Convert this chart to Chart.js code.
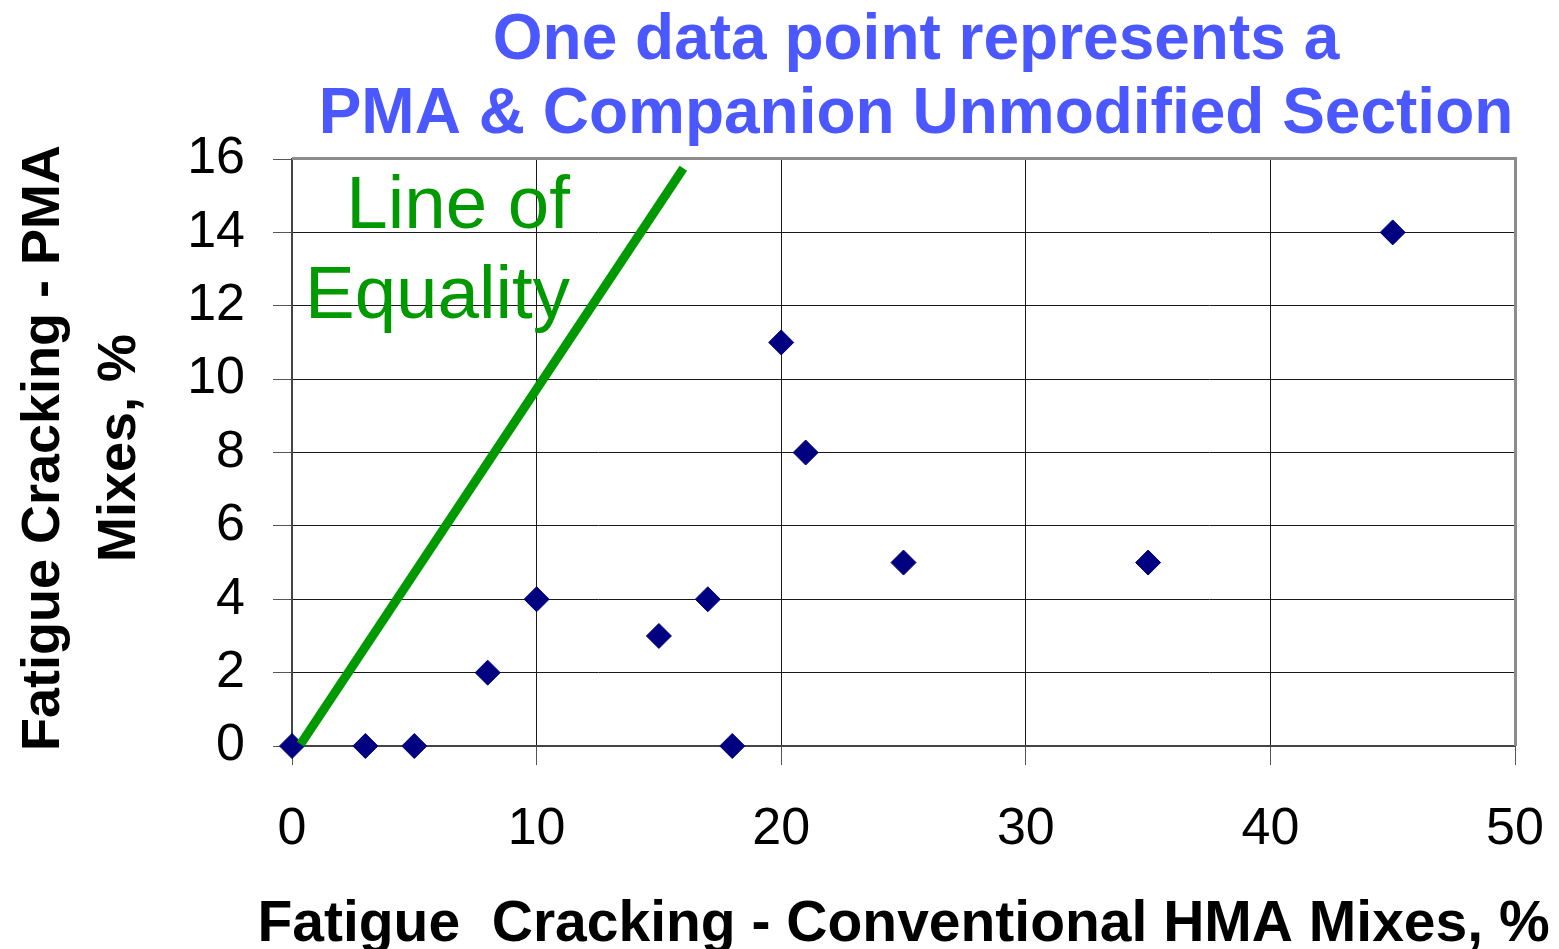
<!DOCTYPE html>
<html>
<head>
<meta charset="utf-8">
<script src="https://cdn.jsdelivr.net/npm/chart.js@4/dist/chart.umd.min.js"></script>
<style>
  html, body { margin: 0; padding: 0; background: #fff; }
  #wrap { width: 1559px; height: 949px; }
</style>
</head>
<body>
<div id="wrap"><canvas id="c" width="1559" height="949"></canvas></div>
<script>
// ---- data ----
const conventionalHMA = [0, 3, 5, 8, 10, 15, 17, 18, 20, 21, 25, 35, 45];
const pmaCracking     = [0, 0, 0, 2, 4, 3, 4, 0, 11, 8, 5, 5, 14];
const equalityX = [0.35, 16];
const equalityY = [0.05, 15.75];
const xTickValues = [0, 10, 20, 30, 40, 50];
const yTickValues = [0, 2, 4, 6, 8, 10, 12, 14, 16];
const titleLines = ['One data point represents a', 'PMA & Companion Unmodified Section'];
const equalityLabel = ['Line of', 'Equality'];
const xTitle = 'Fatigue  Cracking - Conventional HMA Mixes, %';
const yTitle = ['Fatigue Cracking - PMA', 'Mixes, %'];

const FONT = "'Liberation Sans', Arial, sans-serif";

const scatterData = conventionalHMA.map((x, i) => ({ x: x, y: pmaCracking[i] }));
const lineData = equalityX.map((x, i) => ({ x: x, y: equalityY[i] }));

const decor = {
  id: 'decor',
  beforeDatasetsDraw(chart) {
    const { ctx, chartArea: a } = chart;
    ctx.save();
    ctx.strokeStyle = '#8c8c8c';
    ctx.lineWidth = 3;
    ctx.beginPath();
    ctx.moveTo(a.left, a.top - 0.5);
    ctx.lineTo(a.right + 0.5, a.top - 0.5);
    ctx.lineTo(a.right + 0.5, a.bottom);
    ctx.stroke();
    ctx.fillStyle = '#009900';
    ctx.font = '74.5px ' + FONT;
    ctx.textAlign = 'right';
    ctx.textBaseline = 'alphabetic';
    ctx.fillText(equalityLabel[0], 570, 228);
    ctx.fillText(equalityLabel[1], 570, 318);
    ctx.restore();
  },
  afterDraw(chart) {
    const { ctx, chartArea: a } = chart;
    ctx.save();
    // chart title
    ctx.fillStyle = '#4b57ff';
    ctx.font = 'bold 64px ' + FONT;
    ctx.textAlign = 'center';
    ctx.textBaseline = 'alphabetic';
    ctx.fillText(titleLines[0], 916, 59);
    ctx.fillText(titleLines[1], 916, 133);
    // x axis title
    ctx.fillStyle = '#000';
    ctx.font = 'bold 57px ' + FONT;
    ctx.fillText(xTitle, (a.left + a.right) / 2, 941);
    // y axis title (rotated)
    ctx.font = 'bold 54px ' + FONT;
    ctx.translate(0, 448);
    ctx.rotate(-Math.PI / 2);
    ctx.fillText(yTitle[0], 0, 59);
    ctx.fillText(yTitle[1], 0, 135);
    ctx.restore();
  }
};

new Chart(document.getElementById('c'), {
  type: 'scatter',
  data: {
    datasets: [
      {
        label: 'Line of Equality',
        data: lineData,
        showLine: true,
        borderColor: '#009900',
        borderWidth: 9,
        borderCapStyle: 'butt',
        pointRadius: 0,
        clip: false,
        order: 0
      },
      {
        label: 'Sections',
        data: scatterData,
        pointStyle: 'rectRot',
        pointRadius: 12.5,
        pointBackgroundColor: '#000080',
        pointBorderColor: '#000080',
        pointBorderWidth: 1,
        clip: false,
        order: 1
      }
    ]
  },
  options: {
    responsive: false,
    animation: false,
    layout: { padding: { top: 159, right: 44, left: 0, bottom: 0 } },
    plugins: {
      legend: { display: false },
      tooltip: { enabled: false },
      title: { display: false }
    },
    scales: {
      x: {
        type: 'linear',
        min: 0, max: 50,
        afterBuildTicks: s => { s.ticks = xTickValues.map(v => ({ value: v })); },
        afterFit: s => { s.height = 203; s.paddingLeft = 0; s.paddingRight = 0; },
        grid: { color: '#1a1a1a', lineWidth: 1, tickLength: 19, tickColor: '#555' },
        border: { color: '#444', width: 2 },
        ticks: { color: '#000', font: { family: FONT, size: 52 }, padding: 33, maxRotation: 0 },
        title: { display: false }
      },
      y: {
        type: 'linear',
        min: 0, max: 16,
        afterBuildTicks: s => { s.ticks = yTickValues.map(v => ({ value: v })); },
        afterFit: s => { s.width = 292; s.paddingTop = 0; s.paddingBottom = 0; },
        grid: { color: '#1a1a1a', lineWidth: 1, tickLength: 19, tickColor: '#555' },
        border: { color: '#444', width: 2 },
        ticks: { color: '#000', font: { family: FONT, size: 52 }, padding: 28 },
        title: { display: false }
      }
    }
  },
  plugins: [decor]
});
</script>
</body>
</html>
